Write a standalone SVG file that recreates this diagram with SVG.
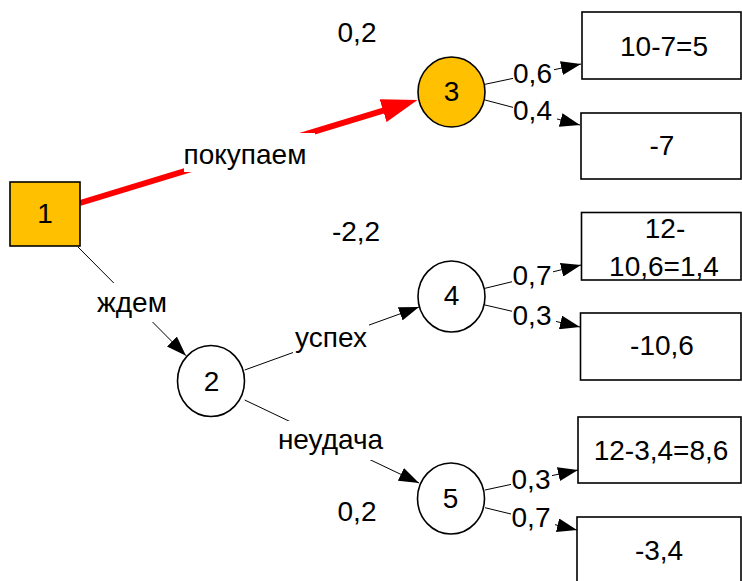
<svg xmlns="http://www.w3.org/2000/svg" width="742" height="581" viewBox="0 0 742 581">
<style>
text{font-family:"Liberation Sans",Arial,sans-serif;font-size:28px;fill:#000;text-anchor:middle}
.node{stroke:#000;stroke-width:1.6}
.dec{fill:#FFC000}
.chance{fill:#fff}
.box{fill:#fff;stroke:#000;stroke-width:1.6}
.conn{stroke:#000;stroke-width:1;fill:none;marker-end:url(#ah)}
.red{stroke:#FF0000;stroke-width:6;fill:none;marker-end:url(#rh)}
.bg{fill:#fff}
</style>
<defs>
<marker id="ah" markerUnits="userSpaceOnUse" markerWidth="20" markerHeight="14" refX="20" refY="7" orient="auto"><path d="M0,0 L20,7 L0,14 z" fill="#000"/></marker>
<marker id="rh" markerUnits="userSpaceOnUse" markerWidth="36" markerHeight="24" refX="1" refY="12" orient="auto"><path d="M0,0 L36,12 L0,24 z" fill="#FF0000"/></marker>
</defs>
<g id="connectors">
<line class="red" x1="80" y1="203" x2="384" y2="110.3"/>
<line class="conn" x1="78" y1="247" x2="186" y2="355.7"/>
<line class="conn" x1="244.7" y1="370" x2="419" y2="307"/>
<line class="conn" x1="244.7" y1="400" x2="419" y2="483"/>
<line class="conn" x1="485" y1="84.3" x2="581" y2="64"/>
<line class="conn" x1="485" y1="100" x2="580" y2="125"/>
<line class="conn" x1="485" y1="288.3" x2="581" y2="265"/>
<line class="conn" x1="485" y1="305" x2="580" y2="327"/>
<line class="conn" x1="485" y1="490" x2="578" y2="470"/>
<line class="conn" x1="485" y1="507.7" x2="577" y2="530"/>
<g id="edge-labels">
<rect class="bg" x="184" y="133" width="131" height="39"/>
<text x="245" y="164">покупаем</text>
<rect class="bg" x="92" y="283" width="80" height="39"/>
<text x="132" y="311.5">ждем</text>
<rect class="bg" x="293" y="322" width="76" height="34"/>
<text x="331" y="347">успех</text>
<rect class="bg" x="275" y="421" width="111" height="39"/>
<text x="330.5" y="449">неудача</text>
<rect class="bg" x="513" y="60" width="41" height="27"/>
<text x="532.5" y="83">0,6</text>
<rect class="bg" x="513" y="98" width="44" height="26"/>
<text x="532.5" y="120">0,4</text>
<rect class="bg" x="512" y="262" width="41" height="27"/>
<text x="532" y="285">0,7</text>
<rect class="bg" x="512" y="302" width="44" height="26"/>
<text x="532" y="325">0,3</text>
<rect class="bg" x="511" y="466" width="41" height="27"/>
<text x="531" y="489">0,3</text>
<rect class="bg" x="511" y="504" width="44" height="27"/>
<text x="531" y="526.5">0,7</text>
</g>
</g>
<g id="node1"><rect class="node dec" x="10" y="182" width="70" height="64"/><text x="45" y="223">1</text></g>
<g id="node2"><ellipse class="node chance" cx="211" cy="381" rx="33.5" ry="35.5"/><text x="211.5" y="391">2</text></g>
<g id="node3"><ellipse class="node dec" cx="451.5" cy="92" rx="33.5" ry="35"/><text x="451.5" y="100.5">3</text></g>
<g id="node4"><ellipse class="node chance" cx="451.5" cy="296.5" rx="33.5" ry="35.5"/><text x="451.5" y="304.5">4</text></g>
<g id="node5"><ellipse class="node chance" cx="451" cy="498.5" rx="33.5" ry="35.5"/><text x="450.5" y="507.5">5</text></g>
<g id="out1"><rect class="box" x="582" y="12" width="159" height="67"/><text x="664" y="55.5">10-7=5</text></g>
<g id="out2"><rect class="box" x="581" y="113" width="160" height="66"/><text x="662" y="155">-7</text></g>
<g id="out3"><rect class="box" x="581.5" y="212.5" width="159.5" height="67.5"/><text x="665" y="237.5">12-</text><text x="664" y="276">10,6=1,4</text></g>
<g id="out4"><rect class="box" x="580.5" y="313" width="160.5" height="67"/><text x="662" y="355">-10,6</text></g>
<g id="out5"><rect class="box" x="578" y="417" width="163" height="66"/><text x="661" y="459.5">12-3,4=8,6</text></g>
<g id="out6"><rect class="box" x="577" y="517" width="164" height="70"/><text x="659" y="560">-3,4</text></g>
<g id="values">
<text x="357" y="41.5">0,2</text>
<text x="356" y="241">-2,2</text>
<text x="357" y="520.5">0,2</text>
</g>
</svg>
